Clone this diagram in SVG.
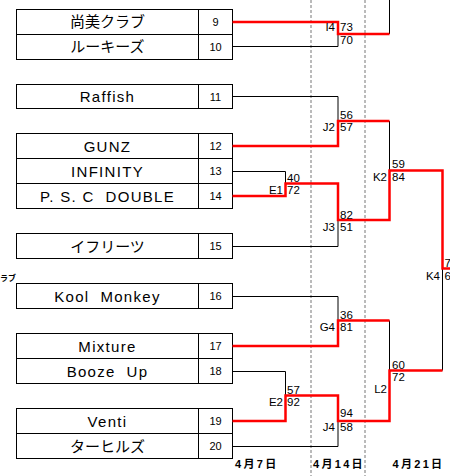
<svg xmlns="http://www.w3.org/2000/svg" width="450" height="476" viewBox="0 0 450 476">
<style>
.cell{fill:#fff;stroke:#000;stroke-width:1}
.nm{font-family:"Liberation Sans","Noto Sans CJK JP",sans-serif;font-size:15px;letter-spacing:1.3px;text-anchor:middle;fill:#000}
.jp{font-family:"Noto Sans CJK JP",sans-serif;font-size:15px;text-anchor:middle;fill:#000}
.no{font-family:"Liberation Sans",sans-serif;font-size:11px;text-anchor:middle;fill:#000}
.sc{font-family:"Liberation Sans",sans-serif;font-size:11.5px;fill:#000}
.lb{font-family:"Liberation Sans",sans-serif;font-size:11.5px;fill:#000;text-anchor:end}
.dt{font-family:"Liberation Sans","Noto Sans CJK JP",sans-serif;font-size:11px;font-weight:bold;letter-spacing:2.3px;fill:#000}
.blk{fill:none;stroke:#000;stroke-width:1}
.red{fill:none;stroke:#f00;stroke-width:2.5}
.dash{stroke:#777;stroke-width:1;stroke-dasharray:3 2}
</style>
<rect width="450" height="476" fill="#fff"/>
<g id="guides">
<line class="dash" x1="311" y1="0" x2="311" y2="476"/>
<line class="dash" x1="365" y1="0" x2="365" y2="476"/>
</g>
<text x="0" y="281" font-family="Noto Sans CJK JP,sans-serif" font-size="8" font-weight="bold">ラブ</text>
<g id="team9"><rect class="cell" x="16.5" y="9.5" width="182" height="25"/><rect class="cell" x="198.5" y="9.5" width="34" height="25"/><text class="jp" x="107.5" y="27">尚美クラブ</text><text class="no" x="215.5" y="26">9</text></g>
<g id="team10"><rect class="cell" x="16.5" y="34.5" width="182" height="25"/><rect class="cell" x="198.5" y="34.5" width="34" height="25"/><text class="jp" x="107.5" y="52">ルーキーズ</text><text class="no" x="215.5" y="51">10</text></g>
<g id="team11"><rect class="cell" x="16.5" y="84.5" width="182" height="24"/><rect class="cell" x="198.5" y="84.5" width="34" height="24"/><text class="nm" x="107.5" y="102">Raffish</text><text class="no" x="215.5" y="101">11</text></g>
<g id="team12"><rect class="cell" x="16.5" y="133.5" width="182" height="25"/><rect class="cell" x="198.5" y="133.5" width="34" height="25"/><text class="nm" x="107.5" y="151.5">GUNZ</text><text class="no" x="215.5" y="150">12</text></g>
<g id="team13"><rect class="cell" x="16.5" y="158.5" width="182" height="25"/><rect class="cell" x="198.5" y="158.5" width="34" height="25"/><text class="nm" x="107.5" y="176.5">INFINITY</text><text class="no" x="215.5" y="175">13</text></g>
<g id="team14"><rect class="cell" x="16.5" y="183.5" width="182" height="25"/><rect class="cell" x="198.5" y="183.5" width="34" height="25"/><text class="nm" x="107.5" y="201.5" xml:space="preserve">P. S. C  DOUBLE</text><text class="no" x="215.5" y="200">14</text></g>
<g id="team15"><rect class="cell" x="16.5" y="233.5" width="182" height="25"/><rect class="cell" x="198.5" y="233.5" width="34" height="25"/><text class="jp" x="107.5" y="251.5">イフリーツ</text><text class="no" x="215.5" y="250">15</text></g>
<g id="team16"><rect class="cell" x="16.5" y="283.5" width="182" height="25"/><rect class="cell" x="198.5" y="283.5" width="34" height="25"/><text class="nm" x="107.5" y="301.5" xml:space="preserve">Kool  Monkey</text><text class="no" x="215.5" y="300">16</text></g>
<g id="team17"><rect class="cell" x="16.5" y="333.5" width="182" height="25"/><rect class="cell" x="198.5" y="333.5" width="34" height="25"/><text class="nm" x="107.5" y="351.5">Mixture</text><text class="no" x="215.5" y="350">17</text></g>
<g id="team18"><rect class="cell" x="16.5" y="358.5" width="182" height="25"/><rect class="cell" x="198.5" y="358.5" width="34" height="25"/><text class="nm" x="107.5" y="376.5" xml:space="preserve">Booze  Up</text><text class="no" x="215.5" y="375">18</text></g>
<g id="team19"><rect class="cell" x="16.5" y="408.5" width="182" height="25"/><rect class="cell" x="198.5" y="408.5" width="34" height="25"/><text class="nm" x="107.5" y="426.5">Venti</text><text class="no" x="215.5" y="425">19</text></g>
<g id="team20"><rect class="cell" x="16.5" y="433.5" width="182" height="25"/><rect class="cell" x="198.5" y="433.5" width="34" height="25"/><text class="jp" x="107.5" y="451.5">ターヒルズ</text><text class="no" x="215.5" y="450">20</text></g>
<g id="connectors">
<path class="blk" d="M389.5 0V34"/>
<path class="blk" d="M232.5 46.5H338V34"/>
<path class="blk" d="M232.5 96.5H338V121"/>
<path class="blk" d="M389.5 121V170.5"/>
<path class="blk" d="M232.5 171.5H285.5V183.5"/>
<path class="blk" d="M232.5 246.5H338V220"/>
<path class="blk" d="M442.5 268.5V370.5"/>
<path class="blk" d="M232.5 296.5H338V320.5"/>
<path class="blk" d="M389.5 320.5V370.5"/>
<path class="blk" d="M232.5 371.5H285.5V395.5"/>
<path class="blk" d="M232.5 446.5H338V421"/>
<path class="red" d="M232.5 22H338V34H389.5"/>
<path class="red" d="M232.5 146H338V121H389.5"/>
<path class="red" d="M232.5 196H285.5V183.5H338V220H389.5V170.5H442.5V268.5H450"/>
<path class="red" d="M232.5 346H338V320.5H389.5"/>
<path class="red" d="M232.5 421H285.5V395.5H338V421H389.5V370.5H442.5"/>
</g>
<g id="labels">
<text class="lb" x="335" y="30.5">I4</text><text class="sc" x="340" y="30.5">73</text><text class="sc" x="340" y="44">70</text>
<text class="sc" x="340" y="119">56</text><text class="lb" x="335" y="131">J2</text><text class="sc" x="340" y="131">57</text>
<text class="sc" x="287" y="182">40</text><text class="lb" x="283" y="194">E1</text><text class="sc" x="287" y="194">72</text>
<text class="sc" x="340" y="219">82</text><text class="lb" x="335" y="231">J3</text><text class="sc" x="340" y="231">51</text>
<text class="sc" x="392" y="168">59</text><text class="lb" x="387" y="181">K2</text><text class="sc" x="392" y="181">84</text>
<text class="sc" x="444.5" y="267">7</text><text class="lb" x="440" y="279.5">K4</text><text class="sc" x="444.5" y="279.5">6</text>
<text class="sc" x="340" y="319">36</text><text class="lb" x="335" y="331">G4</text><text class="sc" x="340" y="331">81</text>
<text class="sc" x="392" y="368.5">60</text><text class="sc" x="392" y="381">72</text><text class="lb" x="387" y="393">L2</text>
<text class="sc" x="287" y="393.5">57</text><text class="lb" x="283" y="405.5">E2</text><text class="sc" x="287" y="405.5">92</text>
<text class="sc" x="340" y="417">94</text><text class="lb" x="335" y="431">J4</text><text class="sc" x="340" y="431">58</text>
</g>
<g id="dates">
<text class="dt" x="235" y="468">4月7日</text>
<text class="dt" x="313" y="468">4月14日</text>
<text class="dt" x="392.5" y="468">4月21日</text>
</g>
</svg>
